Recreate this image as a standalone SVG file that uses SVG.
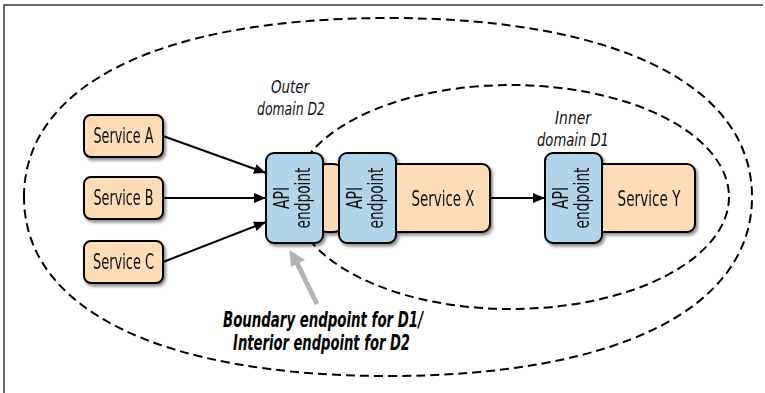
<svg xmlns="http://www.w3.org/2000/svg" width="765" height="393" viewBox="0 0 765 393">
  <style>
    .frame { stroke: #3a3a3a; stroke-width: 1.5; fill: none; }
    .domain { fill: none; stroke: #000; stroke-width: 2; stroke-dasharray: 9 5; }
    .svc { fill: #fddcb7; stroke: #000; stroke-width: 2; }
    .api { fill: #b0d4ea; stroke: #000; stroke-width: 2; }
    .lbl { font-family: "Liberation Sans Narrow", "DejaVu Sans Condensed", "Liberation Sans", sans-serif; font-stretch: condensed; font-size: 21px; fill: #111; }
    .dom { font-family: "Liberation Sans Narrow", "DejaVu Sans Condensed", "Liberation Sans", sans-serif; font-stretch: condensed; font-style: italic; font-size: 18px; fill: #111; }
    .note { font-family: "Liberation Sans Narrow", "DejaVu Sans Condensed", "Liberation Sans", sans-serif; font-stretch: condensed; font-style: italic; font-weight: bold; font-size: 22px; fill: #000; }
    .edge { stroke: #000; stroke-width: 2; fill: none; marker-end: url(#head); }
    .pointer { stroke: #b3b3b3; stroke-width: 5; fill: none; }
  </style>
  <defs>
    <marker id="head" viewBox="0 0 12 10" refX="12" refY="5" markerWidth="12" markerHeight="10" markerUnits="userSpaceOnUse" orient="auto">
      <path d="M0,0 L12,5 L0,10 Z" fill="#000"/>
    </marker>
    <filter id="shadow" x="-20%" y="-20%" width="140%" height="140%">
      <feDropShadow dx="2" dy="2.5" stdDeviation="1.5" flood-color="#000" flood-opacity="0.45"/>
    </filter>
  </defs>

  <rect width="765" height="393" fill="#fff"/>
  <!-- page frame: top and left rules only -->
  <path class="frame" d="M4,393 L4,5 L763,5"/>

  <!-- domain boundaries -->
  <g id="outer-domain">
    <path class="domain" d="M24,197 C24,85 160,18 388,18 C616,18 752,85 752,197 C752,309 616,376 388,376 C160,376 24,309 24,197 Z"/>
    <text class="dom" x="290" y="93" text-anchor="middle" textLength="38" lengthAdjust="spacingAndGlyphs">Outer</text>
    <text class="dom" x="291" y="115" text-anchor="middle" textLength="68" lengthAdjust="spacingAndGlyphs">domain D2</text>
  </g>
  <g id="inner-domain">
    <ellipse class="domain" cx="511" cy="197" rx="218" ry="112"/>
    <text class="dom" x="573" y="124" text-anchor="middle" textLength="36" lengthAdjust="spacingAndGlyphs">Inner</text>
    <text class="dom" x="573" y="146" text-anchor="middle" textLength="72" lengthAdjust="spacingAndGlyphs">domain D1</text>
  </g>

  <!-- connectors -->
  <g id="connectors">
    <path class="edge" d="M163,136 L266,173"/>
    <path class="edge" d="M163,198 L266,198"/>
    <path class="edge" d="M163,262 L266,222"/>
    <path class="edge" d="M490,198 L545,198"/>
    <path class="pointer" d="M317,304 L297,263"/>
    <path d="M289.5,250 L305,260 L291,267 Z" fill="#b3b3b3"/>
  </g>

  <!-- services -->
  <g id="service-a" filter="url(#shadow)">
    <rect class="svc" x="84" y="115" width="79" height="42" rx="7"/>
    <text class="lbl" x="123.5" y="143" text-anchor="middle" textLength="60" lengthAdjust="spacingAndGlyphs">Service A</text>
  </g>
  <g id="service-b" filter="url(#shadow)">
    <rect class="svc" x="84" y="177" width="79" height="42" rx="7"/>
    <text class="lbl" x="123.5" y="205" text-anchor="middle" textLength="60" lengthAdjust="spacingAndGlyphs">Service B</text>
  </g>
  <g id="service-c" filter="url(#shadow)">
    <rect class="svc" x="84" y="241" width="79" height="42" rx="7"/>
    <text class="lbl" x="123.5" y="269" text-anchor="middle" textLength="61" lengthAdjust="spacingAndGlyphs">Service C</text>
  </g>

  <!-- boundary endpoint of D1 / interior endpoint of D2 -->
  <g id="api-outer" filter="url(#shadow)">
    <rect class="svc" x="315" y="164" width="30" height="68" rx="12"/>
    <rect class="api" x="266" y="153" width="57" height="90" rx="8"/>
    <g transform="translate(294.5,198) rotate(-90)">
      <text class="lbl" x="0" y="-6" text-anchor="middle" textLength="22" lengthAdjust="spacingAndGlyphs">API</text>
      <text class="lbl" x="0" y="15" text-anchor="middle" textLength="61" lengthAdjust="spacingAndGlyphs">endpoint</text>
    </g>
  </g>

  <g id="service-x" filter="url(#shadow)">
    <rect class="svc" x="390" y="164" width="100" height="68" rx="8"/>
    <rect class="api" x="339" y="153" width="57" height="90" rx="8"/>
    <g transform="translate(367.5,198) rotate(-90)">
      <text class="lbl" x="0" y="-6" text-anchor="middle" textLength="22" lengthAdjust="spacingAndGlyphs">API</text>
      <text class="lbl" x="0" y="15" text-anchor="middle" textLength="61" lengthAdjust="spacingAndGlyphs">endpoint</text>
    </g>
    <text class="lbl" x="443" y="206" text-anchor="middle" textLength="63" lengthAdjust="spacingAndGlyphs">Service X</text>
  </g>

  <g id="service-y" filter="url(#shadow)">
    <rect class="svc" x="596" y="164" width="99" height="68" rx="8"/>
    <rect class="api" x="545" y="153" width="57" height="90" rx="8"/>
    <g transform="translate(573.5,198) rotate(-90)">
      <text class="lbl" x="0" y="-6" text-anchor="middle" textLength="22" lengthAdjust="spacingAndGlyphs">API</text>
      <text class="lbl" x="0" y="15" text-anchor="middle" textLength="61" lengthAdjust="spacingAndGlyphs">endpoint</text>
    </g>
    <text class="lbl" x="649" y="206" text-anchor="middle" textLength="63" lengthAdjust="spacingAndGlyphs">Service Y</text>
  </g>

  <g id="endpoint-note">
    <text class="note" x="323" y="327" text-anchor="middle" textLength="200" lengthAdjust="spacingAndGlyphs">Boundary endpoint for D1/</text>
    <text class="note" x="321.5" y="350" text-anchor="middle" textLength="177" lengthAdjust="spacingAndGlyphs">Interior endpoint for D2</text>
  </g>
</svg>
